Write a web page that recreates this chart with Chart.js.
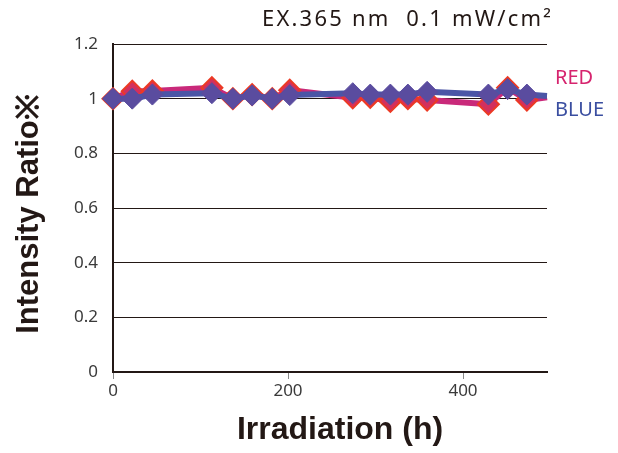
<!DOCTYPE html>
<html>
<head>
<meta charset="utf-8">
<script src="https://cdn.jsdelivr.net/npm/chart.js@4/dist/chart.umd.min.js"></script>
<style>
html,body{margin:0;padding:0;background:#fff;}
#wrap{width:618px;height:453px;position:relative;}
</style>
</head>
<body>
<div id="wrap"><canvas id="c" width="618" height="453"></canvas></div>
<script>
const hours = [0, 22, 45, 113, 137, 159, 182, 202, 274, 294, 317, 337, 359, 429, 451, 473, 496];
const blueValues = [1.00, 1.00, 1.015, 1.02, 1.00, 1.012, 1.00, 1.013, 1.02, 1.015, 1.015, 1.015, 1.025, 1.015, 1.035, 1.015, 1.01];
const redValues = [1.00, 1.027, 1.028, 1.04, 1.00, 1.015, 1.00, 1.031, 1.003, 1.005, 0.99, 1.00, 0.995, 0.98, 1.04, 0.995, 1.005];
const xTickValues = [0, 200, 400];
const yTickValues = [0, 0.2, 0.4, 0.6, 0.8, 1, 1.2];
const seriesNames = ['RED', 'BLUE'];
const titleText = 'EX.365 nm  0.1 mW/cm²';
const xTitle = 'Irradiation (h)';
const yTitle = 'Intensity Ratio※';

const toPts = (xs, ys) => xs.map((x, i) => ({x: x, y: ys[i]}));
const radii = hours.map((h, i) => i === hours.length - 1 ? 0 : 10.5);

const textPlugin = {
  id: 'texts',
  afterDraw(chart) {
    const ctx = chart.ctx;
    ctx.save();
    ctx.textBaseline = 'middle';
    ctx.textAlign = 'left';
    ctx.fillStyle = '#231815';
    ctx.font = '22px "Noto Sans"';
    if ('letterSpacing' in ctx) ctx.letterSpacing = '2.2px';
    ctx.fillText(titleText, 262, 20);
    if ('letterSpacing' in ctx) ctx.letterSpacing = '0px';
    ctx.font = '20px "Noto Sans"';
    ctx.fillStyle = '#d6246e';
    ctx.fillText(seriesNames[0], 555, 78);
    ctx.fillStyle = '#3a4ea0';
    ctx.fillText(seriesNames[1], 555, 110);
    // axis titles
    ctx.fillStyle = '#231815';
    ctx.textAlign = 'center';
    ctx.font = 'bold 32px "Liberation Sans"';
    ctx.fillText(xTitle, 340, 430);
    ctx.translate(29, 214);
    ctx.rotate(-Math.PI / 2);
    ctx.font = 'bold 31px "Liberation Sans"';
    ctx.fillText(yTitle, 0, 0);
    ctx.restore();
  }
};

new Chart(document.getElementById('c'), {
  type: 'line',
  data: {
    datasets: [
      {
        label: seriesNames[1],
        data: toPts(hours, blueValues),
        borderColor: '#4b55a6',
        backgroundColor: '#5a4c9f',
        borderWidth: 6,
        pointStyle: 'rectRot',
        pointRadius: radii,
        pointBackgroundColor: '#5a4c9f',
        pointBorderColor: '#5a4c9f',
        pointBorderWidth: 1,
        tension: 0,
        order: 0,
        clip: false
      },
      {
        label: seriesNames[0],
        data: toPts(hours, redValues),
        borderColor: '#c9297a',
        backgroundColor: '#d2305e',
        borderWidth: 6,
        pointStyle: 'rectRot',
        pointRadius: radii,
        pointBackgroundColor: '#d2305e',
        pointBorderColor: '#ec3a24',
        pointBorderWidth: 2,
        tension: 0,
        order: 1,
        clip: false
      }
    ]
  },
  options: {
    responsive: false,
    animation: false,
    layout: {padding: {left: 0, top: 44, right: 71, bottom: 0}},
    plugins: {legend: {display: false}, tooltip: {enabled: false}, title: {display: false}},
    scales: {
      x: {
        type: 'linear',
        min: 0,
        max: 496,
        afterBuildTicks: s => { s.ticks = xTickValues.map(v => ({value: v})); },
        afterFit: s => { s.height = 81; },
        grid: {display: true, drawOnChartArea: false, drawTicks: true, tickLength: 7, color: '#888', lineWidth: 1},
        border: {display: true, color: '#231815', width: 2},
        ticks: {color: '#3a3a3a', font: {family: 'Noto Sans', size: 17}, padding: 2, maxRotation: 0},
        title: {display: false}
      },
      y: {
        min: 0,
        max: 1.2,
        afterBuildTicks: s => { s.ticks = yTickValues.map(v => ({value: v})); },
        afterFit: s => { s.width = 113; },
        grid: {display: true, drawTicks: false, color: '#231815', lineWidth: 1},
        border: {display: true, color: '#231815', width: 2},
        ticks: {color: '#3a3a3a', font: {family: 'Noto Sans', size: 17}, padding: 15, callback: v => String(Math.round(v * 10) / 10)},
        title: {display: false}
      }
    }
  },
  plugins: [textPlugin]
});
</script>
</body>
</html>
